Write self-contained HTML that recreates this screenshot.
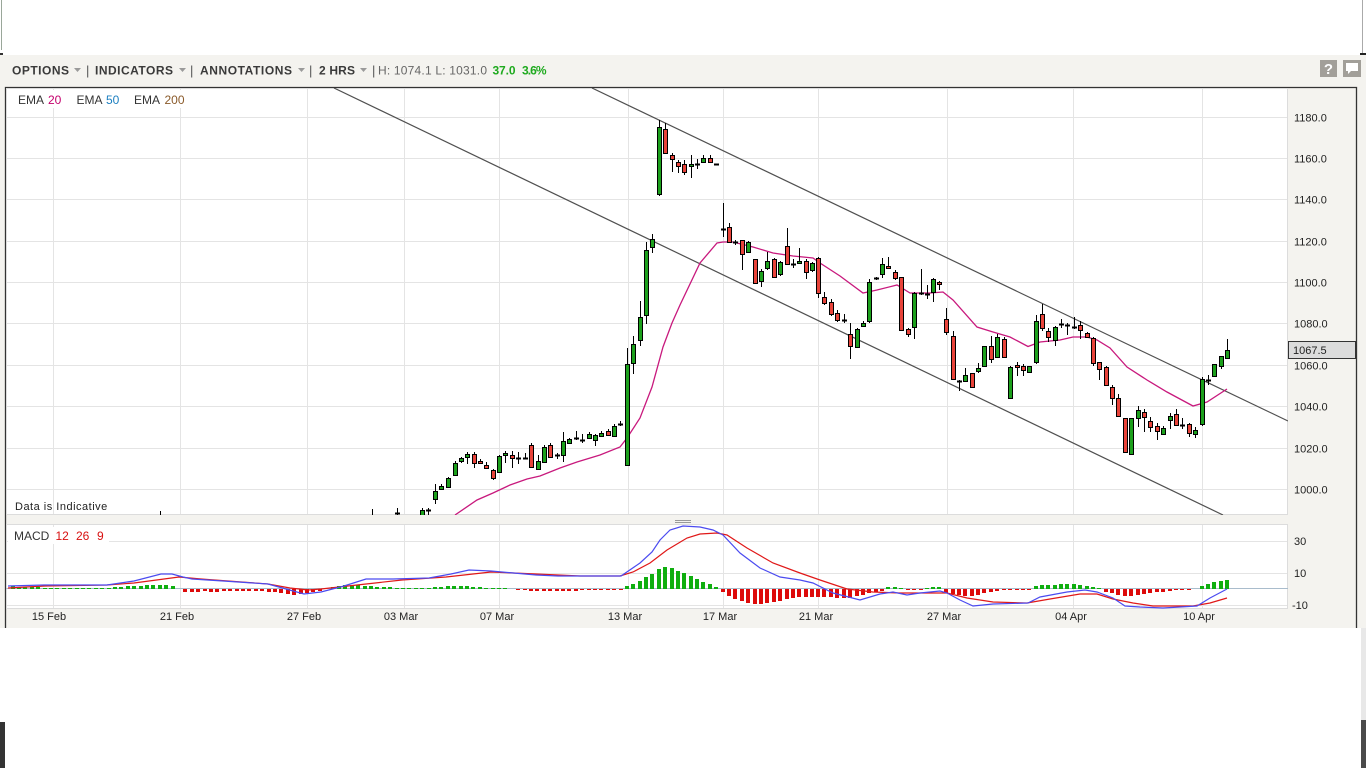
<!DOCTYPE html>
<html><head><meta charset="utf-8"><style>
html,body{margin:0;padding:0;background:#fff;width:1366px;height:768px;overflow:hidden}
svg{display:block}
text{font-family:"Liberation Sans",Arial,sans-serif}
</style></head><body>
<svg width="1366" height="768" viewBox="0 0 1366 768" xmlns="http://www.w3.org/2000/svg">
<defs>
<clipPath id="cm"><rect x="6" y="88" width="1282" height="427"/></clipPath>
<clipPath id="cd"><rect x="6" y="524" width="1282" height="85"/></clipPath>
</defs>
<rect x="0" y="0" width="1366" height="768" fill="#fff"/>
<rect x="1" y="0" width="1" height="50" fill="#9aa79a"/>
<rect x="0" y="53" width="3" height="2" fill="#333"/>
<rect x="1362" y="0" width="1" height="54" fill="#aaa"/>
<rect x="1360" y="53" width="6" height="2" fill="#222"/>
<!-- container -->
<rect x="0" y="55" width="1366" height="573" fill="#f4f3ef"/>
<rect x="1361" y="628" width="5" height="92" fill="#e8e8e8"/>
<rect x="1361" y="720" width="5" height="48" fill="#4a4a4a"/>
<rect x="0" y="722" width="5" height="46" fill="#333"/>
<!-- toolbar -->
<g font-size="12" font-weight="bold" fill="#3a3a3a">
<text x="12" y="74.5" textLength="57" lengthAdjust="spacing">OPTIONS</text>
<text x="95" y="74.5" textLength="78" lengthAdjust="spacing">INDICATORS</text>
<text x="200" y="74.5" textLength="92" lengthAdjust="spacing">ANNOTATIONS</text>
<text x="319" y="74.5" textLength="36" lengthAdjust="spacing">2 HRS</text>
</g>
<g fill="#9a9a9a">
<polygon points="74,68 81,68 77.5,72"/>
<polygon points="179,68 186,68 182.5,72"/>
<polygon points="298,68 305,68 301.5,72"/>
<polygon points="360,68 367,68 363.5,72"/>
</g>
<g font-size="13" fill="#555">
<text x="86" y="75">|</text><text x="190" y="75">|</text><text x="309" y="75">|</text><text x="372" y="75">|</text>
</g>
<text x="378" y="74.5" font-size="12" fill="#666" textLength="109" lengthAdjust="spacing">H: 1074.1 L: 1031.0</text>
<text x="492.5" y="74.5" font-size="12" font-weight="bold" fill="#1faa1f" textLength="23" lengthAdjust="spacing">37.0</text>
<text x="522" y="74.5" font-size="12" font-weight="bold" fill="#1faa1f" textLength="24.5" lengthAdjust="spacing">3.6%</text>
<!-- icons -->
<rect x="1320" y="60" width="17" height="17" fill="#a29f99"/>
<text x="1328.5" y="74" font-size="15" font-weight="bold" fill="#fff" text-anchor="middle">?</text>
<rect x="1343" y="60" width="18" height="17" fill="#a29f99"/>
<path d="M1346 63h12v8h-7l-3 3v-3h-2z" fill="#fff"/>
<!-- frame -->
<path d="M5.5 628V87.5H1356.5V628" fill="none" stroke="#333" stroke-width="1.3"/>
<!-- main plot -->
<rect x="6" y="88" width="1282" height="427" fill="#fff"/>
<g stroke="#e4e4e4" stroke-width="1" shape-rendering="crispEdges">
<path d="M6 117.5H1288M6 158.5H1288M6 199.5H1288M6 241.5H1288M6 282.5H1288M6 323.5H1288M6 365.5H1288M6 406.5H1288M6 448.5H1288M6 489.5H1288"/>
<path d="M53.5 88V515M180.5 88V515M307.5 88V515M404.5 88V515M499.5 88V515M628.5 88V515M723.5 88V515M818.5 88V515M947.5 88V515M1073.5 88V515M1202.5 88V515"/>
</g>
<rect x="6.5" y="88.5" width="1281" height="426" fill="none" stroke="#dcdcdc"/>
<rect x="10" y="90" width="180" height="18" fill="#fff"/>
<text y="104" font-size="12" fill="#333"><tspan x="18">EMA</tspan><tspan x="48" fill="#c4006c">20</tspan><tspan x="76.5">EMA</tspan><tspan x="106" fill="#1c7fc0">50</tspan><tspan x="134">EMA</tspan><tspan x="164.5" fill="#8a5a2a">200</tspan></text>
<g clip-path="url(#cm)">
<path d="M592 88L1288 421M334 88L1223 515" stroke="#505050" stroke-width="1.2" fill="none"/>
<polyline fill="none" stroke="#c8197d" stroke-width="1.3" points="455,515 477,500 493,493 510,485 527,479 540,476 560,468 577,462 600,455 620,447 627,438 640,418 652,387 663,347 672,323 680,305 700,263 717,243 723,242 733,242 753,247 773,253 793,256 813,258 820,263 840,276 863,293 877,290 897,285 910,293 930,293 943,292 953,300 977,327 993,332 1010,337 1028,346.5 1040,342 1060,340 1073,337 1087,337 1097,340 1110,348 1127,367 1147,380 1167,392 1193,406 1207,402 1227,389"/>
<g shape-rendering="crispEdges">
<path stroke="#000" stroke-width="1" fill="none" d="M160.5 511V515M372.5 509V515M397.5 508V515M422.5 508V516M428.5 508V516M435.5 484V504M441.5 484V490M448.5 477V488M455.5 461V476M461.5 457V463M467.5 452V464M474.5 452V468M480.5 459V464M486.5 462V469M493.5 469V480M499.5 455V473M505.5 451V463M512.5 451V468M518.5 452V464M525.5 453V459M531.5 443V468M538.5 455V470M544.5 445V463M550.5 443V457M557.5 453V459M563.5 432V462M569.5 438V444M576.5 431V440M582.5 434V443M589.5 432V439M595.5 434V446M601.5 431V437M608.5 429V436M614.5 424V437M620.5 421V426M627.5 348V465M633.5 336V374M640.5 301V346M646.5 242V324M652.5 234V253M659.5 120V196M665.5 123V153M672.5 153V172M678.5 160V173M684.5 160V175M691.5 155V178M697.5 159V169M703.5 155V162M710.5 155V163M723.5 203V237M729.5 223V243M735.5 240V245M742.5 240V270M748.5 241V253M755.5 259V284M761.5 269V287M767.5 252V270M774.5 258V278M780.5 261V276M787.5 228V265M793.5 259V268M799.5 248V263M806.5 259V279M812.5 262V272M818.5 257V298M824.5 292V305M831.5 299V316M837.5 310V322M844.5 314V323M850.5 323V359M857.5 328V348M863.5 321V327M869.5 279V323M876.5 277V280M882.5 258V278M888.5 257V269M895.5 270V280M901.5 277V331M908.5 328V337M914.5 292V339M921.5 269V295M927.5 285V299M933.5 278V302M939.5 281V290M946.5 308V335M953.5 331V380M959.5 380V391M965.5 368V382M972.5 373V387M978.5 363V373M984.5 346V366M991.5 336V363M997.5 334V358M1004.5 337V358M1010.5 366V399M1017.5 362V376M1023.5 364V376M1029.5 366V372M1036.5 315V364M1042.5 304V331M1048.5 328V342M1055.5 326V346M1061.5 319V328M1067.5 323V335M1074.5 317V329M1080.5 321V339M1087.5 332V338M1093.5 337V366M1099.5 362V380M1106.5 366V386M1112.5 385V405M1118.5 394V416M1125.5 418V453M1131.5 418V455M1138.5 406V427M1144.5 409V432M1150.5 417V432M1157.5 423V440M1163.5 426V435M1170.5 413V429M1176.5 409V426M1182.5 418V429M1189.5 423V437M1195.5 427V438M1202.5 377V426M1208.5 375V385M1214.5 364V377M1221.5 356V369M1227.5 339V358"/>
<path stroke="#000" stroke-width="2" fill="none" d="M395 513.5H400M426 510.5H431M516 458.5H521M523 458.5H528M555 455.5H560M574 438.5H579M580 440.5H585M618 424.5H623M695 164.5H700M714 164.5H719M721 229.5H726M733 242.5H738M791 264.5H796M842 320.5H847M874 278.5H879M919 293.5H924M925 294.5H930M957 381.5H962M1059 324.5H1064M1065 325.5H1070M1072 327.5H1077M1180 425.5H1185M1206 380.5H1211"/>
<path fill="#1ca01c" stroke="#000" stroke-width="1" d="M420.5 510.5h4v6h-4zM433.5 491.5h4v8h-4zM439.5 486.5h4v3h-4zM446.5 478.5h4v9h-4zM453.5 463.5h4v12h-4zM459.5 458.5h4v3h-4zM465.5 454.5h4v3h-4zM497.5 456.5h4v16h-4zM503.5 453.5h4v2h-4zM536.5 461.5h4v8h-4zM542.5 447.5h4v15h-4zM561.5 441.5h4v14h-4zM567.5 439.5h4v4h-4zM587.5 434.5h4v4h-4zM593.5 435.5h4v5h-4zM599.5 433.5h4v3h-4zM612.5 426.5h4v10h-4zM625.5 364.5h4v101h-4zM631.5 344.5h4v19h-4zM638.5 317.5h4v23h-4zM644.5 250.5h4v65h-4zM650.5 239.5h4v8h-4zM657.5 127.5h4v67h-4zM689.5 164.5h4v2h-4zM701.5 158.5h4v4h-4zM746.5 242.5h4v10h-4zM759.5 271.5h4v10h-4zM765.5 261.5h4v7h-4zM778.5 262.5h4v12h-4zM797.5 261.5h4v2h-4zM810.5 263.5h4v7h-4zM855.5 329.5h4v18h-4zM861.5 323.5h4v3h-4zM867.5 282.5h4v39h-4zM880.5 264.5h4v10h-4zM912.5 293.5h4v34h-4zM931.5 279.5h4v13h-4zM963.5 375.5h4v6h-4zM976.5 368.5h4v3h-4zM982.5 346.5h4v20h-4zM995.5 337.5h4v20h-4zM1008.5 367.5h4v31h-4zM1027.5 366.5h4v6h-4zM1034.5 321.5h4v41h-4zM1053.5 327.5h4v13h-4zM1129.5 418.5h4v36h-4zM1136.5 410.5h4v8h-4zM1161.5 428.5h4v6h-4zM1168.5 416.5h4v4h-4zM1193.5 430.5h4v4h-4zM1200.5 379.5h4v45h-4zM1212.5 364.5h4v12h-4zM1219.5 356.5h4v10h-4zM1225.5 350.5h4v8h-4z"/>
<path fill="#e8433a" stroke="#000" stroke-width="1" d="M472.5 454.5h4v9h-4zM478.5 461.5h4v2h-4zM484.5 465.5h4v3h-4zM491.5 470.5h4v8h-4zM510.5 455.5h4v3h-4zM529.5 445.5h4v22h-4zM548.5 445.5h4v12h-4zM606.5 431.5h4v4h-4zM663.5 129.5h4v24h-4zM670.5 155.5h4v4h-4zM676.5 162.5h4v4h-4zM682.5 164.5h4v8h-4zM708.5 158.5h4v4h-4zM727.5 227.5h4v15h-4zM740.5 240.5h4v14h-4zM753.5 259.5h4v24h-4zM772.5 259.5h4v18h-4zM785.5 246.5h4v18h-4zM804.5 261.5h4v11h-4zM816.5 258.5h4v35h-4zM822.5 297.5h4v6h-4zM829.5 302.5h4v12h-4zM835.5 313.5h4v7h-4zM848.5 334.5h4v12h-4zM886.5 266.5h4v2h-4zM893.5 272.5h4v6h-4zM899.5 277.5h4v53h-4zM906.5 329.5h4v5h-4zM937.5 282.5h4v2h-4zM944.5 319.5h4v13h-4zM951.5 336.5h4v43h-4zM970.5 373.5h4v14h-4zM989.5 346.5h4v13h-4zM1002.5 339.5h4v18h-4zM1015.5 365.5h4v2h-4zM1021.5 366.5h4v4h-4zM1040.5 314.5h4v14h-4zM1046.5 331.5h4v6h-4zM1078.5 325.5h4v5h-4zM1085.5 333.5h4v4h-4zM1091.5 338.5h4v25h-4zM1097.5 362.5h4v7h-4zM1104.5 367.5h4v18h-4zM1110.5 387.5h4v11h-4zM1116.5 398.5h4v18h-4zM1123.5 418.5h4v34h-4zM1142.5 412.5h4v5h-4zM1148.5 421.5h4v6h-4zM1155.5 426.5h4v5h-4zM1174.5 414.5h4v11h-4zM1187.5 424.5h4v9h-4z"/>
</g>
</g>
<text x="15" y="510" font-size="11" fill="#222" letter-spacing="0.5">Data is Indicative</text>
<!-- price axis -->
<g font-size="11" fill="#222">
<text x="1294" y="121.5">1180.0</text>
<text x="1294" y="162.5">1160.0</text>
<text x="1294" y="203.5">1140.0</text>
<text x="1294" y="245.5">1120.0</text>
<text x="1294" y="286.5">1100.0</text>
<text x="1294" y="327.5">1080.0</text>
<text x="1294" y="369.5">1060.0</text>
<text x="1294" y="410.5">1040.0</text>
<text x="1294" y="452.5">1020.0</text>
<text x="1294" y="493.5">1000.0</text>
</g>
<rect x="1288.5" y="341.5" width="67" height="17" fill="#dcdcdc" stroke="#333"/>
<text x="1293" y="354" font-size="11" fill="#222">1067.5</text>
<!-- handle -->
<path d="M675 520.5H691M675 522.5H691M675 524.5H691" stroke="#999" stroke-width="1"/>
<!-- MACD panel -->
<rect x="6" y="524" width="1282" height="85" fill="#fff"/>
<g stroke="#e4e4e4" stroke-width="1" shape-rendering="crispEdges">
<path d="M6 541.5H1288M6 573.5H1288M6 605.5H1288"/>
<path d="M53.5 524V609M180.5 524V609M307.5 524V609M404.5 524V609M499.5 524V609M628.5 524V609M723.5 524V609M818.5 524V609M947.5 524V609M1073.5 524V609M1202.5 524V609"/>
</g>
<rect x="6.5" y="524.5" width="1281" height="84" fill="none" stroke="#dcdcdc"/>
<rect x="8" y="527" width="101" height="17" fill="#fff"/>
<text y="540" font-size="12" fill="#333"><tspan x="14">MACD</tspan><tspan x="55.5" fill="#d81010">12</tspan><tspan x="76" fill="#d81010">26</tspan><tspan x="97" fill="#d81010">9</tspan></text>
<g clip-path="url(#cd)">
<path d="M6 588.5H1288" stroke="#a9bccc" stroke-width="1" shape-rendering="crispEdges"/>
<g shape-rendering="crispEdges">
<path fill="#0fae0f" d="M11 586h4v3h-4zM17 587h4v2h-4zM23 587h4v2h-4zM30 587h4v2h-4zM36 587h4v2h-4zM43 588h4v1h-4zM49 588h4v1h-4zM55 588h4v1h-4zM62 588h4v1h-4zM68 588h4v1h-4zM75 588h4v1h-4zM81 588h4v1h-4zM87 588h4v1h-4zM94 588h4v1h-4zM100 588h4v1h-4zM107 588h4v1h-4zM113 587h4v2h-4zM119 587h4v2h-4zM126 586h4v3h-4zM132 586h4v3h-4zM139 586h4v3h-4zM145 585h4v4h-4zM151 585h4v4h-4zM158 585h4v4h-4zM164 585h4v4h-4zM171 586h4v3h-4zM331 587h4v2h-4zM337 586h4v3h-4zM343 585h4v4h-4zM350 585h4v4h-4zM356 585h4v4h-4zM363 586h4v3h-4zM369 586h4v3h-4zM375 587h4v2h-4zM382 587h4v2h-4zM388 587h4v2h-4zM395 588h4v1h-4zM401 588h4v1h-4zM407 588h4v1h-4zM414 588h4v1h-4zM420 588h4v1h-4zM427 588h4v1h-4zM433 587h4v2h-4zM439 587h4v2h-4zM446 586h4v3h-4zM452 586h4v3h-4zM459 586h4v3h-4zM465 586h4v3h-4zM471 587h4v2h-4zM478 587h4v2h-4zM484 588h4v1h-4zM491 588h4v1h-4zM497 588h4v1h-4zM503 588h4v1h-4zM625 586h4v3h-4zM631 584h4v5h-4zM638 581h4v8h-4zM644 577h4v12h-4zM650 574h4v15h-4zM657 569h4v20h-4zM663 567h4v22h-4zM670 568h4v21h-4zM676 571h4v18h-4zM682 573h4v16h-4zM689 576h4v13h-4zM695 579h4v10h-4zM701 582h4v7h-4zM708 584h4v5h-4zM714 587h4v2h-4zM886 587h4v2h-4zM893 587h4v2h-4zM899 588h4v1h-4zM925 588h4v1h-4zM931 587h4v2h-4zM937 587h4v2h-4zM1034 586h4v3h-4zM1040 585h4v4h-4zM1046 585h4v4h-4zM1053 585h4v4h-4zM1059 584h4v5h-4zM1065 584h4v5h-4zM1072 584h4v5h-4zM1078 585h4v4h-4zM1085 586h4v3h-4zM1091 587h4v2h-4zM1097 588h4v1h-4zM1200 586h4v3h-4zM1206 584h4v5h-4zM1212 582h4v7h-4zM1219 581h4v8h-4zM1225 580h4v9h-4z"/>
<path fill="#dd0a0a" d="M183 589h4v3h-4zM190 589h4v3h-4zM196 589h4v3h-4zM203 589h4v2h-4zM209 589h4v3h-4zM215 589h4v3h-4zM222 589h4v2h-4zM228 589h4v2h-4zM235 589h4v2h-4zM241 589h4v2h-4zM247 589h4v2h-4zM254 589h4v2h-4zM260 589h4v2h-4zM267 589h4v3h-4zM273 589h4v3h-4zM279 589h4v4h-4zM286 589h4v5h-4zM292 589h4v6h-4zM299 589h4v5h-4zM305 589h4v4h-4zM311 589h4v3h-4zM318 589h4v2h-4zM516 589h4v1h-4zM523 589h4v1h-4zM529 589h4v2h-4zM535 589h4v2h-4zM542 589h4v2h-4zM548 589h4v2h-4zM555 589h4v2h-4zM561 589h4v2h-4zM567 589h4v2h-4zM574 589h4v2h-4zM580 589h4v1h-4zM587 589h4v1h-4zM593 589h4v1h-4zM599 589h4v1h-4zM606 589h4v1h-4zM612 589h4v1h-4zM619 589h4v1h-4zM721 589h4v3h-4zM727 589h4v7h-4zM733 589h4v10h-4zM740 589h4v12h-4zM746 589h4v14h-4zM753 589h4v15h-4zM759 589h4v15h-4zM765 589h4v14h-4zM772 589h4v13h-4zM778 589h4v12h-4zM785 589h4v10h-4zM791 589h4v9h-4zM797 589h4v8h-4zM804 589h4v8h-4zM810 589h4v8h-4zM816 589h4v8h-4zM822 589h4v8h-4zM829 589h4v8h-4zM835 589h4v9h-4zM842 589h4v9h-4zM848 589h4v9h-4zM855 589h4v7h-4zM861 589h4v6h-4zM867 589h4v4h-4zM874 589h4v3h-4zM880 589h4v2h-4zM906 589h4v1h-4zM912 589h4v1h-4zM919 589h4v1h-4zM944 589h4v4h-4zM951 589h4v5h-4zM957 589h4v6h-4zM963 589h4v7h-4zM970 589h4v7h-4zM976 589h4v6h-4zM982 589h4v4h-4zM989 589h4v3h-4zM995 589h4v2h-4zM1002 589h4v1h-4zM1008 589h4v1h-4zM1015 589h4v1h-4zM1021 589h4v1h-4zM1027 589h4v1h-4zM1104 589h4v3h-4zM1110 589h4v4h-4zM1116 589h4v6h-4zM1123 589h4v7h-4zM1129 589h4v7h-4zM1136 589h4v6h-4zM1142 589h4v5h-4zM1148 589h4v4h-4zM1155 589h4v3h-4zM1161 589h4v3h-4zM1168 589h4v2h-4zM1174 589h4v1h-4zM1180 589h4v1h-4zM1187 589h4v1h-4z"/>
</g>
<polyline fill="none" stroke="#e01818" stroke-width="1.2" points="8,588 45,586 107,585 134,583 179,577 201,579 268,584 290,588 308,590 321,589 357,585 402,580 446,577 491,572 536,574 580,576 620,576 633,572 650,563 667,550 687,538 700,534 717,533 727,535 747,548 773,563 800,573 820,580 847,589 873,592 900,593 933,593 947,593 967,598 993,602 1027,603 1050,599 1080,594 1097,594 1113,599 1133,603 1153,606 1173,606 1193,606 1210,603 1227,598"/>
<polyline fill="none" stroke="#4b4bf0" stroke-width="1.2" points="8,586 44,585 107,585 134,581 161,574 172,574 183,577 192,579 223,581 268,584 286,589 304,594 321,592 344,586 366,579 393,579 429,578 451,574 469,570 491,571 536,575 558,576 580,576 621,576 640,563 652,552 660,540 670,530 683,526 700,527 713,530 723,535 740,553 760,568 780,577 800,580 813,583 833,593 860,600 880,594 893,592 907,595 920,593 940,591 947,593 960,600 973,606 993,604 1028,603 1040,597 1067,592 1085,590 1097,592 1113,598 1125,606 1140,607 1163,608 1180,607 1197,606 1210,598 1227,589"/>
</g>
<g font-size="11" fill="#222">
<text x="1294" y="545">30</text>
<text x="1294" y="577">10</text>
<text x="1292" y="609">-10</text>
</g>
<!-- date axis -->
<g font-size="11" fill="#222" text-anchor="middle">
<text x="49" y="620">15 Feb</text>
<text x="177" y="620">21 Feb</text>
<text x="304" y="620">27 Feb</text>
<text x="401" y="620">03 Mar</text>
<text x="497" y="620">07 Mar</text>
<text x="625" y="620">13 Mar</text>
<text x="720" y="620">17 Mar</text>
<text x="816" y="620">21 Mar</text>
<text x="944" y="620">27 Mar</text>
<text x="1071" y="620">04 Apr</text>
<text x="1199" y="620">10 Apr</text>
</g>
</svg>
</body></html>
